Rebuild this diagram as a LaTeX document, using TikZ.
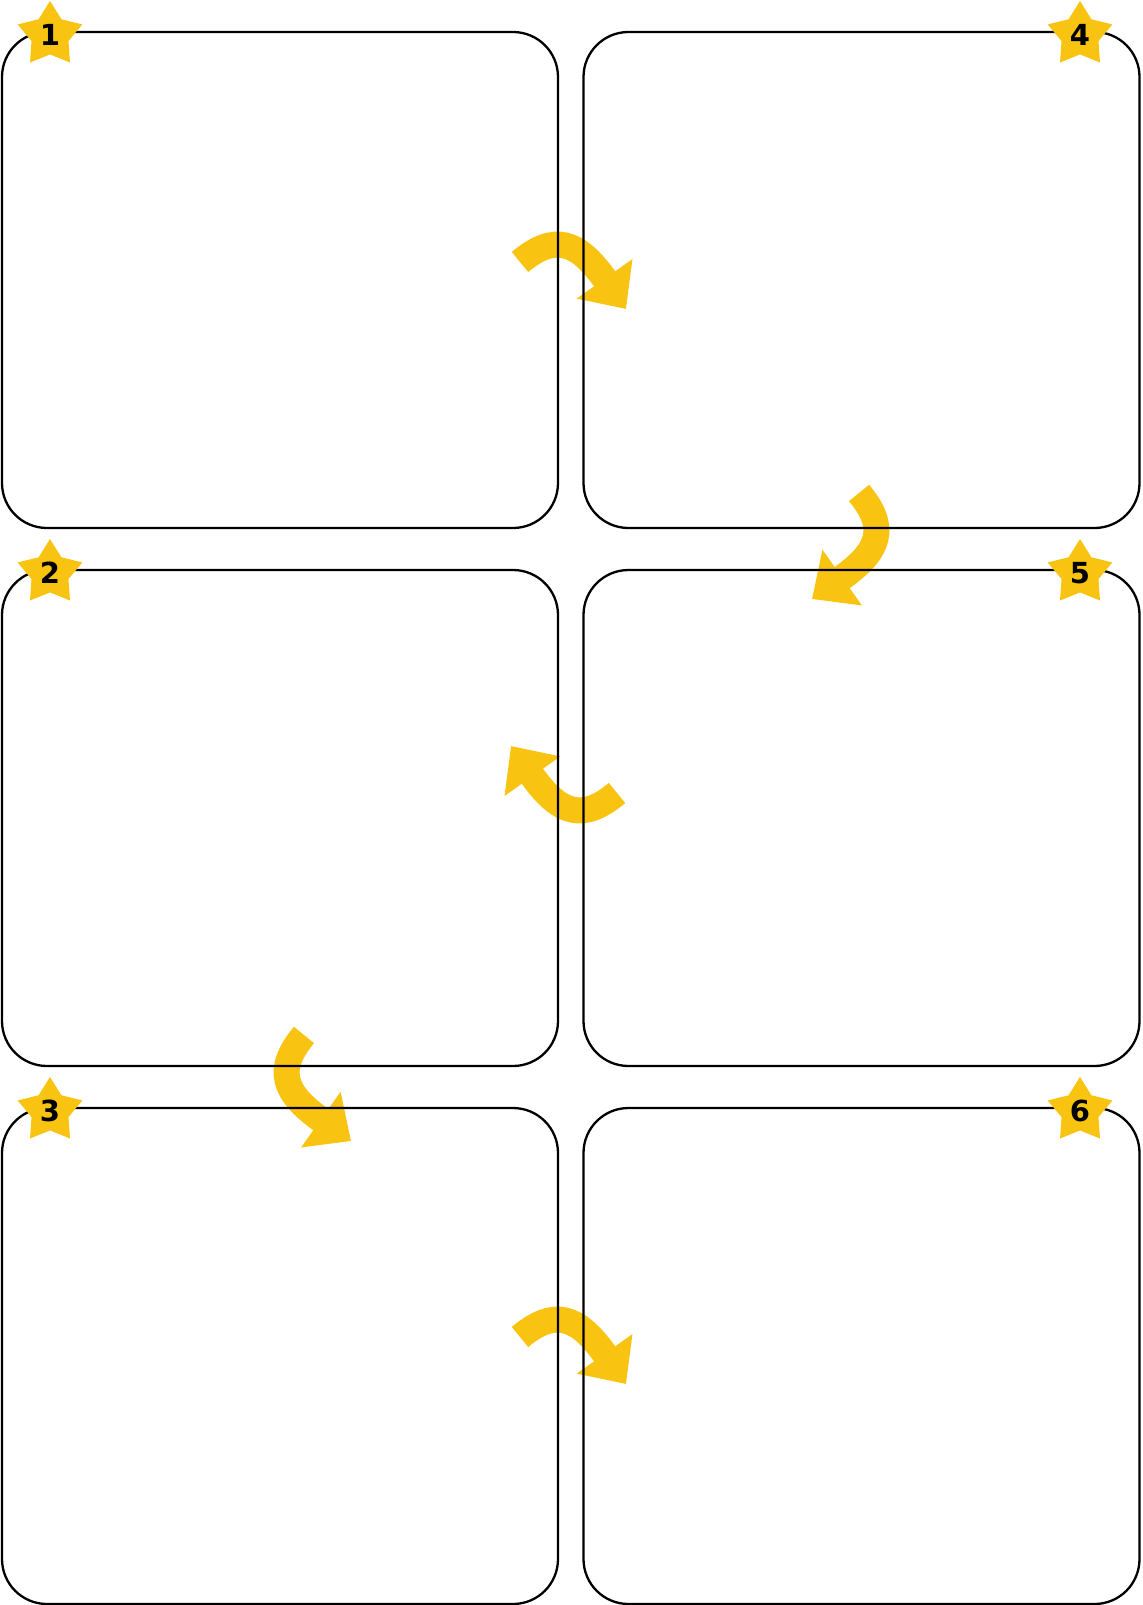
\documentclass[tikz,border=0pt]{standalone}
\usepackage{fontspec}
\newfontfamily\badgefont{DejaVu Sans}
\usetikzlibrary{shapes.geometric,arrows.meta}
\definecolor{gold}{RGB}{249,196,17}
\tikzset{
	panel/.style={draw,line width=1.15pt,rounded corners=22.5pt,minimum width=278pt,minimum height=248pt,inner sep=0pt},
	badge/.style={star,star points=5,star point ratio=1.75,fill=gold,inner sep=0pt,minimum size=34pt,font=\badgefont\bfseries\fontsize{14.5}{15}\selectfont},
	turn/.style={draw=gold,line width=13pt,-{Triangle[length=18.5pt,width=33pt]}}
}
\begin{document}
\begin{tikzpicture}[x=0.5pt,y=-0.5pt]
		\fill[white] (0,0) rectangle (1142,1605);
		\useasboundingbox (0,0) rectangle (1142,1605);
		% arrow ends
		\coordinate (t1) at (520,262);
		\coordinate (h1) at (626,309);
		\coordinate (t2) at (859,493);
		\coordinate (h2) at (812,599);
		\coordinate (t3) at (617,793);
		\coordinate (h3) at (511,746);
		\coordinate (t4) at (304,1035);
		\coordinate (h4) at (351,1141);
		\coordinate (t5) at (520,1337);
		\coordinate (h5) at (626,1384);
		\draw[turn] (t1) .. controls +(34.5,-29) and +(-26.5,-36.5) .. ++(84,16) -- (h1);
		\draw[turn] (t2) .. controls +(29,34.5) and +(36.5,-26.5) .. ++(-16,84) -- (h2);
		\draw[turn] (t3) .. controls +(-34.5,29) and +(26.5,36.5) .. ++(-84,-16) -- (h3);
		\draw[turn] (t4) .. controls +(-29,34.5) and +(-36.5,-26.5) .. ++(16,84) -- (h4);
		\draw[turn] (t5) .. controls +(34.5,-29) and +(-26.5,-36.5) .. ++(84,16) -- (h5);
		% frames
		\node[panel] (p1) at (280,280) {};
		\node[panel] (p2) at (280,818) {};
		\node[panel] (p3) at (280,1356) {};
		\node[panel] (p4) at (861.5,280) {};
		\node[panel] (p5) at (861.5,818) {};
		\node[panel] (p6) at (861.5,1356) {};
		% badges
		\node[badge] (s1) at (50,35) {1};
		\node[badge] (s2) at (50,573) {2};
		\node[badge] (s3) at (50,1111) {3};
		\node[badge] (s4) at (1080,35) {4};
		\node[badge] (s5) at (1080,573) {5};
		\node[badge] (s6) at (1080,1111) {6};
	\end{tikzpicture}
\end{document}
